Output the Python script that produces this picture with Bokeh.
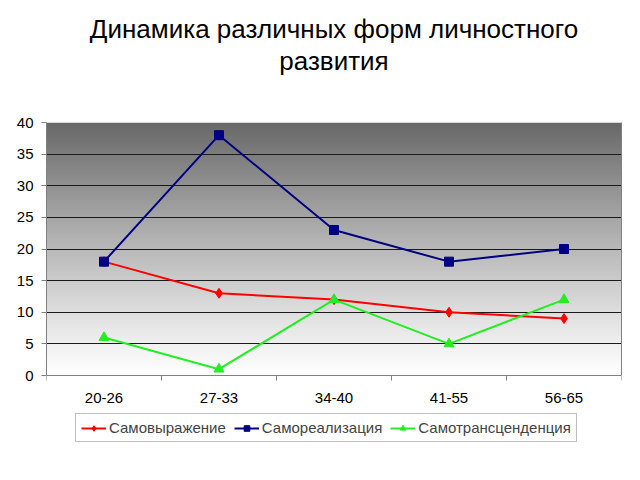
import numpy as np
from bokeh.plotting import figure
from bokeh.models import Range1d, FixedTicker, Legend, LegendItem, Title, LinearAxis
from bokeh.embed import file_html
from bokeh.resources import INLINE

categories = ["20-26", "27-33", "34-40", "41-55", "56-65"]
samovyrazhenie = [18, 13, 12, 10, 9]
samorealizatsiya = [18, 38, 23, 18, 20]
samotrans = [6, 1, 12, 5, 12]
series_names = ["Самовыражение", "Самореализация", "Самотрансценденция"]
title_lines = ["Динамика различных форм личностного", "развития"]
y_ticks = [0, 5, 10, 15, 20, 25, 30, 35, 40]

n = len(categories)
xs = [i + 0.5 for i in range(n)]
ymax = y_ticks[-1]

# layout in pixels
W, H = 640, 480
top, chart_h, below_chart, bottom = 122, 253, 72, 33
y_start = -ymax * below_chart / chart_h

p = figure(width=W, height=H, output_backend="svg", toolbar_location=None,
           x_range=Range1d(0, n), y_range=Range1d(y_start, ymax),
           min_border_left=46, min_border_right=19, min_border_top=top,
           min_border_bottom=bottom)

spacer = Title(text=" ", text_font_size="1px", standoff=44)
p.add_layout(spacer, "above")
for txt in reversed(title_lines):
    t = Title(text=txt, align="center", text_font="Liberation Sans",
              text_font_style="normal", text_font_size="26px", text_color="#000000",
              standoff=0)
    p.add_layout(t, "above")

# gradient background of the chart area
rows = 200
tt = np.linspace(0, 1, rows)  # bottom -> top
g = (255 - (255 - 105) * tt ** 1.1).astype(np.uint32)
img = np.zeros((rows, 1), dtype=np.uint32)
img[:, 0] = (255 << 24) | (g << 16) | (g << 8) | g
r = p.image_rgba(image=[img], x=0, y=0, dw=n, dh=ymax)
r.level = "image"

# x axis at y=0
p.xaxis.fixed_location = 0
p.xaxis.ticker = FixedTicker(ticks=xs, minor_ticks=list(range(n + 1)))
p.xaxis.major_label_overrides = {x: c for x, c in zip(xs, categories)}
p.xaxis.major_tick_out = 0
p.xaxis.major_tick_in = 0
p.xaxis.minor_tick_out = 5
p.xaxis.minor_tick_in = 0
p.xaxis.minor_tick_line_color = "#808080"
p.xaxis.axis_line_color = "#808080"
p.xaxis.major_label_standoff = 12

p.yaxis.ticker = FixedTicker(ticks=y_ticks)
p.yaxis.bounds = (0, ymax)
p.yaxis.major_tick_out = 5
p.yaxis.major_tick_in = 0
p.yaxis.minor_tick_line_color = None
p.yaxis.major_tick_line_color = "#808080"
p.yaxis.axis_line_color = "#808080"
p.yaxis.major_label_standoff = 8

for ax in (p.xaxis, p.yaxis):
    ax.major_label_text_font = "Liberation Sans"
    ax.major_label_text_font_size = "15px"
    ax.major_label_text_color = "#000000"

# right border of the chart area
rax = LinearAxis(bounds=(0, ymax), major_tick_line_color=None, minor_tick_line_color=None,
                 major_label_text_font_size="0px", axis_line_color="#808080",
                 ticker=FixedTicker(ticks=[]))
p.add_layout(rax, "right")

p.xgrid.grid_line_color = None
p.ygrid.grid_line_color = "#1a1a1a"
p.ygrid.grid_line_width = 1
p.ygrid.ticker = FixedTicker(ticks=y_ticks[1:])
p.outline_line_color = None
p.background_fill_color = "white"
p.border_fill_color = "white"

colors = ["#ff0000", "#000080", "#22ee22"]
data = [samovyrazhenie, samorealizatsiya, samotrans]
markers = ["diamond", "square", "triangle"]
sizes = [10, 9, 10]
items = []
for name, ys, c, m, s in zip(series_names, data, colors, markers, sizes):
    l = p.line(xs, ys, line_color=c, line_width=2)
    mk = p.scatter(xs, ys, marker=m, size=s, fill_color=c, line_color=c)
    items.append(LegendItem(label=name, renderers=[l, mk]))

legend = Legend(items=items, orientation="horizontal", location=(29, 5),
                label_text_font="Liberation Sans", label_text_font_size="15px",
                label_standoff=3, glyph_width=25, glyph_height=14, spacing=8,
                padding=5, margin=0, border_line_color="#808080",
                background_fill_alpha=1.0, label_height=14)
p.add_layout(legend)

open("out.html", "w").write(file_html(p, INLINE))
